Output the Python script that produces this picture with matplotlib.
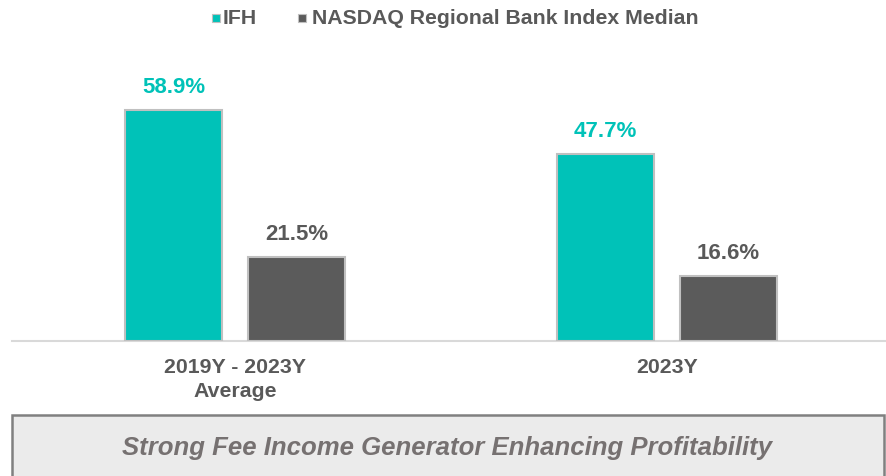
import matplotlib
matplotlib.use("Agg")
import matplotlib.pyplot as plt
from matplotlib.patches import Rectangle
import numpy as np

categories = ["2019Y - 2023Y\nAverage", "2023Y"]
series_names = ["IFH", "NASDAQ Regional Bank Index Median"]
ifh = [58.9, 47.7]
nasdaq = [21.5, 16.6]
footer = "Strong Fee Income Generator Enhancing Profitability"

TEAL = "#00C2B8"
DARK = "#5B5B5B"
TXT = "#595959"
EDGE = "#C0C0C0"

plt.rcParams['font.family'] = ['Liberation Sans', 'DejaVu Sans']

W, H = 886, 476
fig = plt.figure(figsize=(W/100, H/100), dpi=100)

# axes in pixel coords
ax_left, ax_right = 12, 886
base_y = 341
ppu = 3.922  # px per percent
ymax = 75
ax = fig.add_axes([ax_left/W, (H-base_y)/H, (ax_right-ax_left)/W, ymax*ppu/H])

x = np.arange(len(categories))
unit = 432.0
bw = 97/unit
off = 61.5/unit
ax.bar(x - off, ifh, bw, color=TEAL, edgecolor=EDGE, linewidth=1.5, zorder=3)
ax.bar(x + off, nasdaq, bw, color=DARK, edgecolor=EDGE, linewidth=1.5, zorder=3)

ax.set_xlim(-(235-ax_left)/unit, 1 + (ax_right-667)/unit)
ax.set_ylim(0, ymax)

for xi, v in zip(x - off, ifh):
    ax.annotate(f"{v:.1f}%", (xi, v), xytext=(0, 8.5), textcoords="offset points",
                ha="center", va="bottom", fontsize=16, fontweight="bold", color=TEAL)
for xi, v in zip(x + off, nasdaq):
    ax.annotate(f"{v:.1f}%", (xi, v), xytext=(0, 8.5), textcoords="offset points",
                ha="center", va="bottom", fontsize=16, fontweight="bold", color=TXT)

for s in ["top", "right", "left"]:
    ax.spines[s].set_visible(False)
ax.spines["bottom"].set_color("#D9D9D9")
ax.spines["bottom"].set_linewidth(1.5)
ax.set_yticks([])
ax.set_xticks(x)
ax.set_xticklabels(categories, fontsize=15.3, fontweight="bold", color=TXT, linespacing=1.35)
ax.tick_params(axis="x", length=0, pad=12)

# legend
ly = 1 - 18/H
sq = 8
fig.patches.append(Rectangle((212/W, ly - sq/2/H), sq/W, sq/H, transform=fig.transFigure,
                             facecolor=TEAL, edgecolor="#BFBFBF", linewidth=0.8))
fig.text(223/W, ly - 1/H, series_names[0], color=TXT, fontsize=15.3, fontweight="bold", ha="left", va="center")
fig.patches.append(Rectangle((298/W, ly - sq/2/H), sq/W, sq/H, transform=fig.transFigure,
                             facecolor=DARK, edgecolor="#BFBFBF", linewidth=0.8))
fig.text(312/W, ly - 1/H, series_names[1], color=TXT, fontsize=15.3, fontweight="bold", ha="left", va="center")

# footer box
box = Rectangle((12/W, -0.05), (884-12)/W, (476-415)/H + 0.05, transform=fig.transFigure,
                facecolor="#EBEBEB", edgecolor="#808080", linewidth=1.8)
fig.patches.append(box)
fig.text(447/W, 1-448/H, footer, fontsize=18.5, fontweight="bold", fontstyle="italic",
         color="#767171", ha="center", va="center")

fig.savefig("out.png", dpi=100)
